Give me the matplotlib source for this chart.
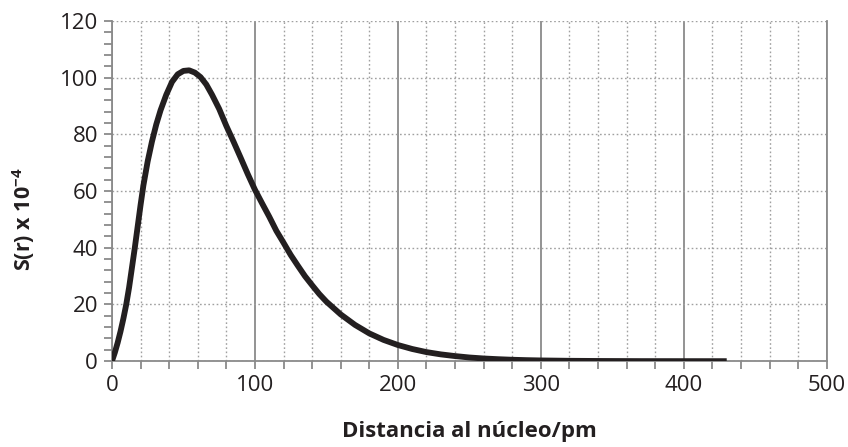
import matplotlib
matplotlib.use("Agg")
import matplotlib.pyplot as plt
from matplotlib.ticker import MultipleLocator

# distancia al núcleo (pm) y S(r) x 10^-4
r = [0, 2, 4, 6, 8, 10, 12, 14, 16, 18, 20, 22, 25, 28, 31, 34, 38, 42, 46, 50,
     54, 58, 62, 66, 70, 75, 80, 85, 90, 95, 100, 105, 110, 115, 120, 125, 130,
     135, 140, 145, 150, 160, 170, 180, 190, 200, 210, 220, 230, 240, 250, 260,
     270, 280, 290, 300, 320, 340, 370, 400, 430]
s = [0, 3, 6.5, 10.5, 15, 20, 26, 33, 40, 47.5, 55, 62, 70.5, 77.5, 83.5, 88.5,
     94, 98.5, 101.2, 102.4, 102.6, 101.8, 100.2, 97.6, 94, 89, 83, 77.5, 71.8,
     66, 60.5, 55.7, 51, 46, 41.8, 37.5, 33.7, 30, 26.8, 23.7, 21, 16.5, 12.8,
     9.8, 7.5, 5.7, 4.3, 3.2, 2.4, 1.8, 1.3, 0.95, 0.7, 0.5, 0.36, 0.26, 0.13,
     0.07, 0.02, 0.01, 0.0]

plt.rcParams['font.family'] = ['Open Sans', 'DejaVu Sans']
plt.rcParams['mathtext.fontset'] = 'custom'
plt.rcParams['mathtext.bf'] = 'Open Sans:bold'
plt.rcParams['mathtext.rm'] = 'Open Sans'

grid_c = '#8a8a8a'

fig = plt.figure(figsize=(8.48, 4.47), dpi=100)
ax = fig.add_axes([0.132, 0.192, 0.843, 0.761])

ax.plot(r, s, color='#231f20', lw=4.2, solid_joinstyle='round',
        solid_capstyle='butt', zorder=5)

ax.set_xlim(0, 500)
ax.set_ylim(0, 120)
ax.xaxis.set_major_locator(MultipleLocator(100))
ax.xaxis.set_minor_locator(MultipleLocator(20))
ax.yaxis.set_major_locator(MultipleLocator(20))
ax.yaxis.set_minor_locator(MultipleLocator(4))

# rejilla
ax.grid(which='major', axis='x', color=grid_c, lw=1.3, ls='-')
ax.grid(which='minor', axis='x', color='#a0a0a0', lw=1.0, ls=(0, (1.2, 1.8)))
ax.grid(which='major', axis='y', color='#a0a0a0', lw=1.0, ls=(0, (1.2, 1.8)))

for side in ['left', 'bottom', 'right']:
    ax.spines[side].set_color(grid_c)
    ax.spines[side].set_linewidth(1.3)
ax.spines['top'].set_visible(False)

ax.tick_params(which='both', direction='out', color=grid_c, width=1.3)
ax.tick_params(which='major', length=6, labelsize=16, labelcolor='#231f20', pad=4)
ax.tick_params(which='minor', length=6)

# títulos de ejes colocados a mano (como en la figura original)
fig.text(0.553, 0.034, 'Distancia al núcleo/pm', fontsize=16, fontweight='bold',
         color='#231f20', ha='center', va='center')
fig.text(0.028, 0.51, r'S(r) x 10$^{\mathbf{-4}}$', fontsize=15.5,
         fontweight='bold', color='#231f20', ha='center', va='center',
         rotation=90)

fig.savefig('out.png', dpi=100)
